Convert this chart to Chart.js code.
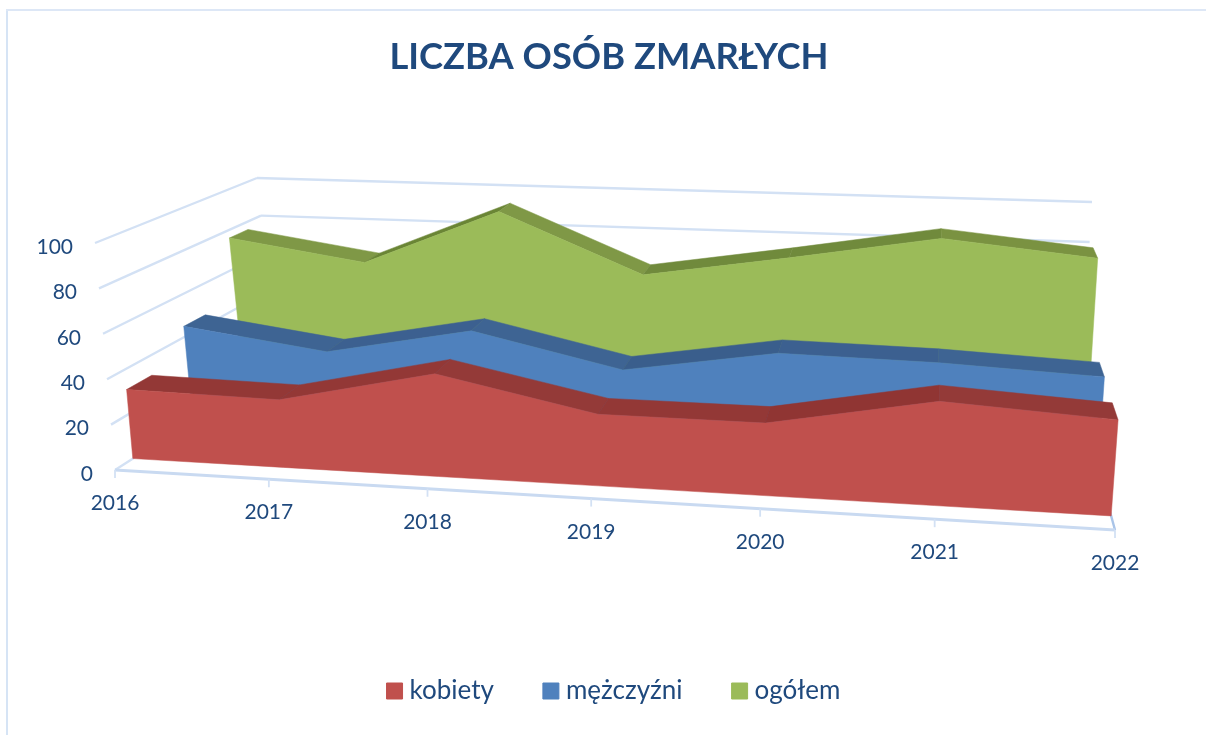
<!DOCTYPE html>
<html lang="pl">
<head>
<meta charset="utf-8">
<style>html,body{margin:0;padding:0;background:#fff}#wrap{width:1206px;height:735px}</style>
<script src="https://cdn.jsdelivr.net/npm/chart.js@4/dist/chart.umd.min.js"></script>
</head>
<body>
<div id="wrap"><canvas id="c" width="1206" height="735"></canvas></div>
<script>
const chartTitle = 'LICZBA OSÓB ZMARŁYCH';
const categories = ['2016','2017','2018','2019','2020','2021','2022'];
const kobiety    = [31,30,45,31,31,44,40];
const mezczyzni  = [45,36,49,34,45,44,41];
const ogolem     = [76,66,94,65,76,88,81];
const yTicks     = [0,20,40,60,80,100];

/* 3-D box the scales are projected into: screen corners [front/back][left/right][floor/top] */
const BOX = {
  flb:[115,470], flt:[95,243],  frb:[1115,530], frt:[1133,285],
  blb:[277,366], blt:[257,178], brb:[1080,402], brt:[1092,202]
};
const PERSPECTIVE = 1.1;
const DEPTH = { kobiety:[.11,.265], 'mężczyźni':[.48,.613], 'ogółem':[.80,.915] };
const RIDGE = {
  kobiety:     ['#933836','#933836','#943a38','#933836','#903533','#943a38'],
  'mężczyźni': ['#3e6493','#3c6090','#3e6493','#3a5e8c','#3c6090','#3e6493'],
  'ogółem':    ['#7f9846','#6a8535','#7f9846','#708a3c','#708a3c','#7a9241']
};
const GRID = '#d3e1f4', TEXT = '#1f497d';
const FONT = 'Lato, "Open Sans", sans-serif';

function warp(u){ return u/(u+PERSPECTIVE*(1-u)); }
function mix(a,b,t){ return [a[0]+(b[0]-a[0])*t, a[1]+(b[1]-a[1])*t]; }
function project(u,v,w){
  const t = warp(u);
  const fb = mix(BOX.flb,BOX.frb,t), ft = mix(BOX.flt,BOX.frt,t);
  const bb = mix(BOX.blb,BOX.brb,t), bt = mix(BOX.blt,BOX.brt,t);
  return mix(mix(fb,ft,v), mix(bb,bt,v), w);
}
function norm(chart,i,val){
  const x = chart.scales.x, y = chart.scales.y;
  return [(x.getPixelForValue(i)-x.left)/x.width, (y.bottom-y.getPixelForValue(val))/y.height];
}
function poly(ctx,pts,color){
  ctx.beginPath();
  pts.forEach((p,i)=> i?ctx.lineTo(p[0],p[1]):ctx.moveTo(p[0],p[1]));
  ctx.closePath();
  ctx.fillStyle=color; ctx.strokeStyle=color; ctx.lineWidth=.5;
  ctx.fill(); ctx.stroke();
}
function seg(ctx,a,b,color,w){
  ctx.beginPath(); ctx.moveTo(a[0],a[1]); ctx.lineTo(b[0],b[1]);
  ctx.strokeStyle=color; ctx.lineWidth=w; ctx.stroke();
}

const area3d = {
  id:'area3d',
  afterLayout(chart){
    chart.legend.left += 7.5; chart.legend.right += 7.5;
  },
  afterDatasetsUpdate(chart){
    chart.data.datasets.forEach((ds,di)=>{
      const meta = chart.getDatasetMeta(di);
      const d = DEPTH[ds.label];
      meta.data.forEach((el,i)=>{
        const [u,v] = norm(chart,i,ds.data[i]);
        const p = project(u,v,d[0]);
        el.x=p[0]; el.y=p[1];
      });
    });
  },
  beforeDatasetsDraw(chart){
    const ctx = chart.ctx;
    ctx.save();
    ctx.lineCap='butt';
    /* frame */
    seg(ctx,[7,9],[7,735],'#d6e4f5',2);
    seg(ctx,[6,10],[1206,10],'#dde7f6',2);
    /* walls */
    const ys = chart.scales.y, xs = chart.scales.x;
    ctx.font = '21px '+FONT; ctx.fillStyle=TEXT;
    ys.ticks.forEach(t=>{
      const v = (ys.bottom-ys.getPixelForValue(t.value))/ys.height;
      const a = project(0,v,0), b = project(0,v,1), c = project(1,v,1);
      if (t.value>0){ seg(ctx,a,b,GRID,2.4); seg(ctx,b,c,GRID,2.4); }
      ctx.textAlign='right'; ctx.textBaseline='middle'; ctx.fillStyle=TEXT;
      ctx.fillText(String(t.value), a[0]-22, a[1]+4);
    });
    /* floor */
    seg(ctx,project(0,0,0),project(0,0,.15),GRID,2.4);
    seg(ctx,project(1,0,0),project(1,0,.14),'#a9c4e8',2.4);
    seg(ctx,project(0,0,0),project(1,0,0),'#c9daf1',3);
    categories.forEach((c,i)=>{
      const u = (xs.getPixelForValue(i)-xs.left)/xs.width;
      const p = project(u,0,0);
      seg(ctx,p,[p[0],p[1]+8],GRID,1.8);
      ctx.textAlign='center'; ctx.textBaseline='middle'; ctx.fillStyle=TEXT;
      ctx.fillText(xs.getLabelForValue(i), p[0], p[1]+33.5);
    });
    ctx.restore();
  },
  beforeDatasetDraw(chart,args){
    const ds = chart.data.datasets[args.index], ctx = chart.ctx;
    const d = DEPTH[ds.label];
    const front = [], back = [];
    ds.data.forEach((val,i)=>{
      const [u,v] = norm(chart,i,val);
      front.push(project(u,v,d[0])); back.push(project(u,v,d[1]));
    });
    const base = categories.map((c,i)=>{
      const [u] = norm(chart,i,0);
      return project(u,0,d[0]);
    }).reverse();
    ctx.save();
    front.forEach((p,i)=>{
      if(i<front.length-1) poly(ctx,[p,front[i+1],back[i+1],back[i]],RIDGE[ds.label][i]);
    });
    poly(ctx,front.concat(base),ds.backgroundColor);
    ctx.restore();
  }
};

new Chart(document.getElementById('c'),{
  type:'line',
  data:{
    labels:categories,
    datasets:[
      {label:'kobiety',   data:kobiety,  backgroundColor:'#c0504d',borderColor:'#c0504d',showLine:false,pointRadius:0},
      {label:'mężczyźni', data:mezczyzni,backgroundColor:'#4f81bd',borderColor:'#4f81bd',showLine:false,pointRadius:0},
      {label:'ogółem',    data:ogolem,   backgroundColor:'#9bbb59',borderColor:'#9bbb59',showLine:false,pointRadius:0}
    ]
  },
  plugins:[area3d],
  options:{
    responsive:false,
    animation:false,
    layout:{padding:{left:12,right:0,top:0,bottom:21}},
    scales:{
      x:{display:false,offset:false},
      y:{display:false,min:0,max:100,afterBuildTicks(s){s.ticks=yTicks.map(v=>({value:v}));}}
    },
    plugins:{
      tooltip:{enabled:false},
      title:{display:true,text:chartTitle,color:TEXT,align:'center',
        font:{family:FONT,size:36.3,weight:'bold'},padding:{top:36,bottom:0}},
      legend:{position:'bottom',
        labels:{color:TEXT,font:{family:FONT,size:26},usePointStyle:true,pointStyle:'rect',
          boxWidth:4,boxHeight:16,padding:55}}
    }
  }
});
</script>
</body>
</html>
